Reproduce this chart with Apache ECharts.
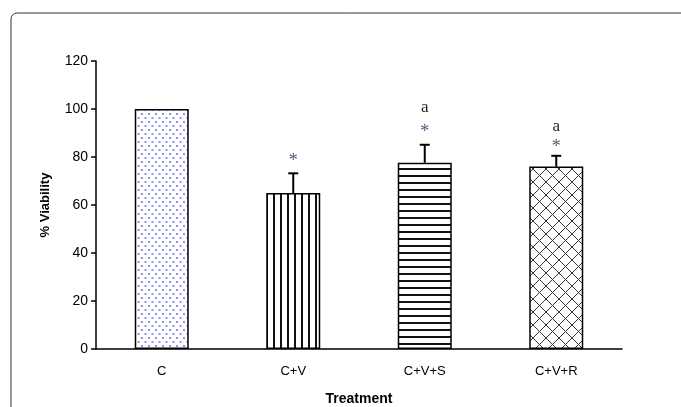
<!DOCTYPE html>
<html><head><meta charset="utf-8">
<script src="https://cdn.jsdelivr.net/npm/echarts@6/dist/echarts.min.js"></script>
<style>html,body{margin:0;padding:0;background:#fff}#c{width:681px;height:407px}</style>
</head><body><div id="c"></div>
<script>
const categories = ['C', 'C+V', 'C+V+S', 'C+V+R'];
const viability = [100, 65, 77.6, 76];
const errors = [0, 8.2, 7.5, 4.5];
const starY = [null, 80, 92, 85.8];
const letterY = [null, null, 100.8, 92.5];
const stars = ['', '*', '*', '*'];
const letters = ['', '', 'a', 'a'];
const yTicks = [0, 20, 40, 60, 80, 100, 120];

function tile(w, h, draw) {
  const c = document.createElement('canvas');
  c.width = w; c.height = h;
  const g = c.getContext('2d');
  g.fillStyle = '#fff'; g.fillRect(0, 0, w, h);
  draw(g);
  return c;
}
const dots = tile(7, 8, g => {
  g.fillStyle = '#8f8ff2';
  g.fillRect(1, 1, 2, 2);
  g.fillRect(4.5, 5, 2, 2);
});
const vlines = tile(7, 4, g => { g.fillStyle = '#111'; g.fillRect(0, 0, 2, 4); });
const hlines = tile(4, 7.3, g => { g.fillStyle = '#111'; g.fillRect(0, 0, 4, 2); });
const cross = tile(13, 13, g => {
  g.strokeStyle = '#333'; g.lineWidth = 1;
  g.beginPath(); g.moveTo(0, 0); g.lineTo(13, 13); g.moveTo(13, 0); g.lineTo(0, 13); g.stroke();
});
const patterns = [dots, vlines, hlines, cross];

const chart = echarts.init(document.getElementById('c'), null, {renderer: 'canvas'});
chart.setOption({
  animation: false,
  backgroundColor: '#fff',
  graphic: [{
    type: 'rect', shape: {x: 11, y: 13, width: 720, height: 440, r: 6},
    style: {fill: 'none', stroke: '#333', lineWidth: 1}, z: -1
  }],
  grid: {left: 96, right: 59, top: 61, bottom: 58, containLabel: false, outerBoundsMode: 'none'},
  xAxis: {
    type: 'category', data: categories,
    name: 'Treatment', nameLocation: 'middle', nameGap: 43,
    nameTextStyle: {fontFamily: 'Liberation Sans', fontWeight: 'bold', fontSize: 14, color: '#000'},
    axisLine: {lineStyle: {color: '#000', width: 1.5}},
    axisTick: {length: 5, lineStyle: {color: '#000', width: 1.5}},
    axisLabel: {fontFamily: 'Liberation Sans', fontSize: 13, color: '#000', margin: 16}
  },
  yAxis: {
    type: 'value', min: 0, max: 120, interval: 20,
    name: '% Viability', nameLocation: 'middle', nameGap: 44, nameRotate: 90,
    nameTextStyle: {fontFamily: 'Liberation Sans', fontWeight: 'bold', fontSize: 13, color: '#000'},
    splitLine: {show: false},
    axisLine: {show: true, lineStyle: {color: '#000', width: 1.5}},
    axisTick: {show: true, length: 5, lineStyle: {color: '#000', width: 1.5}},
    axisLabel: {fontFamily: 'Liberation Sans', fontSize: 14, color: '#000', margin: 8,
      formatter: v => yTicks.includes(v) ? String(v) : ''}
  },
  series: [{
    type: 'bar', barWidth: 54,
    data: viability.map((v, i) => ({
      value: v,
      itemStyle: {color: {image: patterns[i], repeat: 'repeat'}, borderColor: '#000', borderWidth: 1.5}
    }))
  }, {
    type: 'custom', z: 5,
    data: viability.map((v, i) => [i, v, errors[i], starY[i], letterY[i]]),
    renderItem: (params, api) => {
      const i = api.value(0);
      const v = api.value(1), e = api.value(2);
      const base = api.coord([i, v]);
      const top = api.coord([i, v + e]);
      const children = [];
      if (e > 0) {
        children.push({type: 'line', shape: {x1: base[0], y1: base[1], x2: top[0], y2: top[1]}, style: {stroke: '#000', lineWidth: 2}});
        children.push({type: 'line', shape: {x1: top[0] - 5, y1: top[1], x2: top[0] + 5, y2: top[1]}, style: {stroke: '#000', lineWidth: 2}});
      }
      if (stars[i]) {
        const p = api.coord([i, starY[i]]);
        children.push({type: 'text', x: p[0], y: p[1] + 4, style: {text: stars[i], fill: '#4a5a7a', font: '18px "Liberation Serif"', align: 'center', verticalAlign: 'middle'}});
      }
      if (letters[i]) {
        const p = api.coord([i, letterY[i]]);
        children.push({type: 'text', x: p[0], y: p[1], style: {text: letters[i], fill: '#2a1a22', font: '17px "Liberation Serif"', align: 'center', verticalAlign: 'middle'}});
      }
      return {type: 'group', children};
    }
  }]
});
</script></body></html>
